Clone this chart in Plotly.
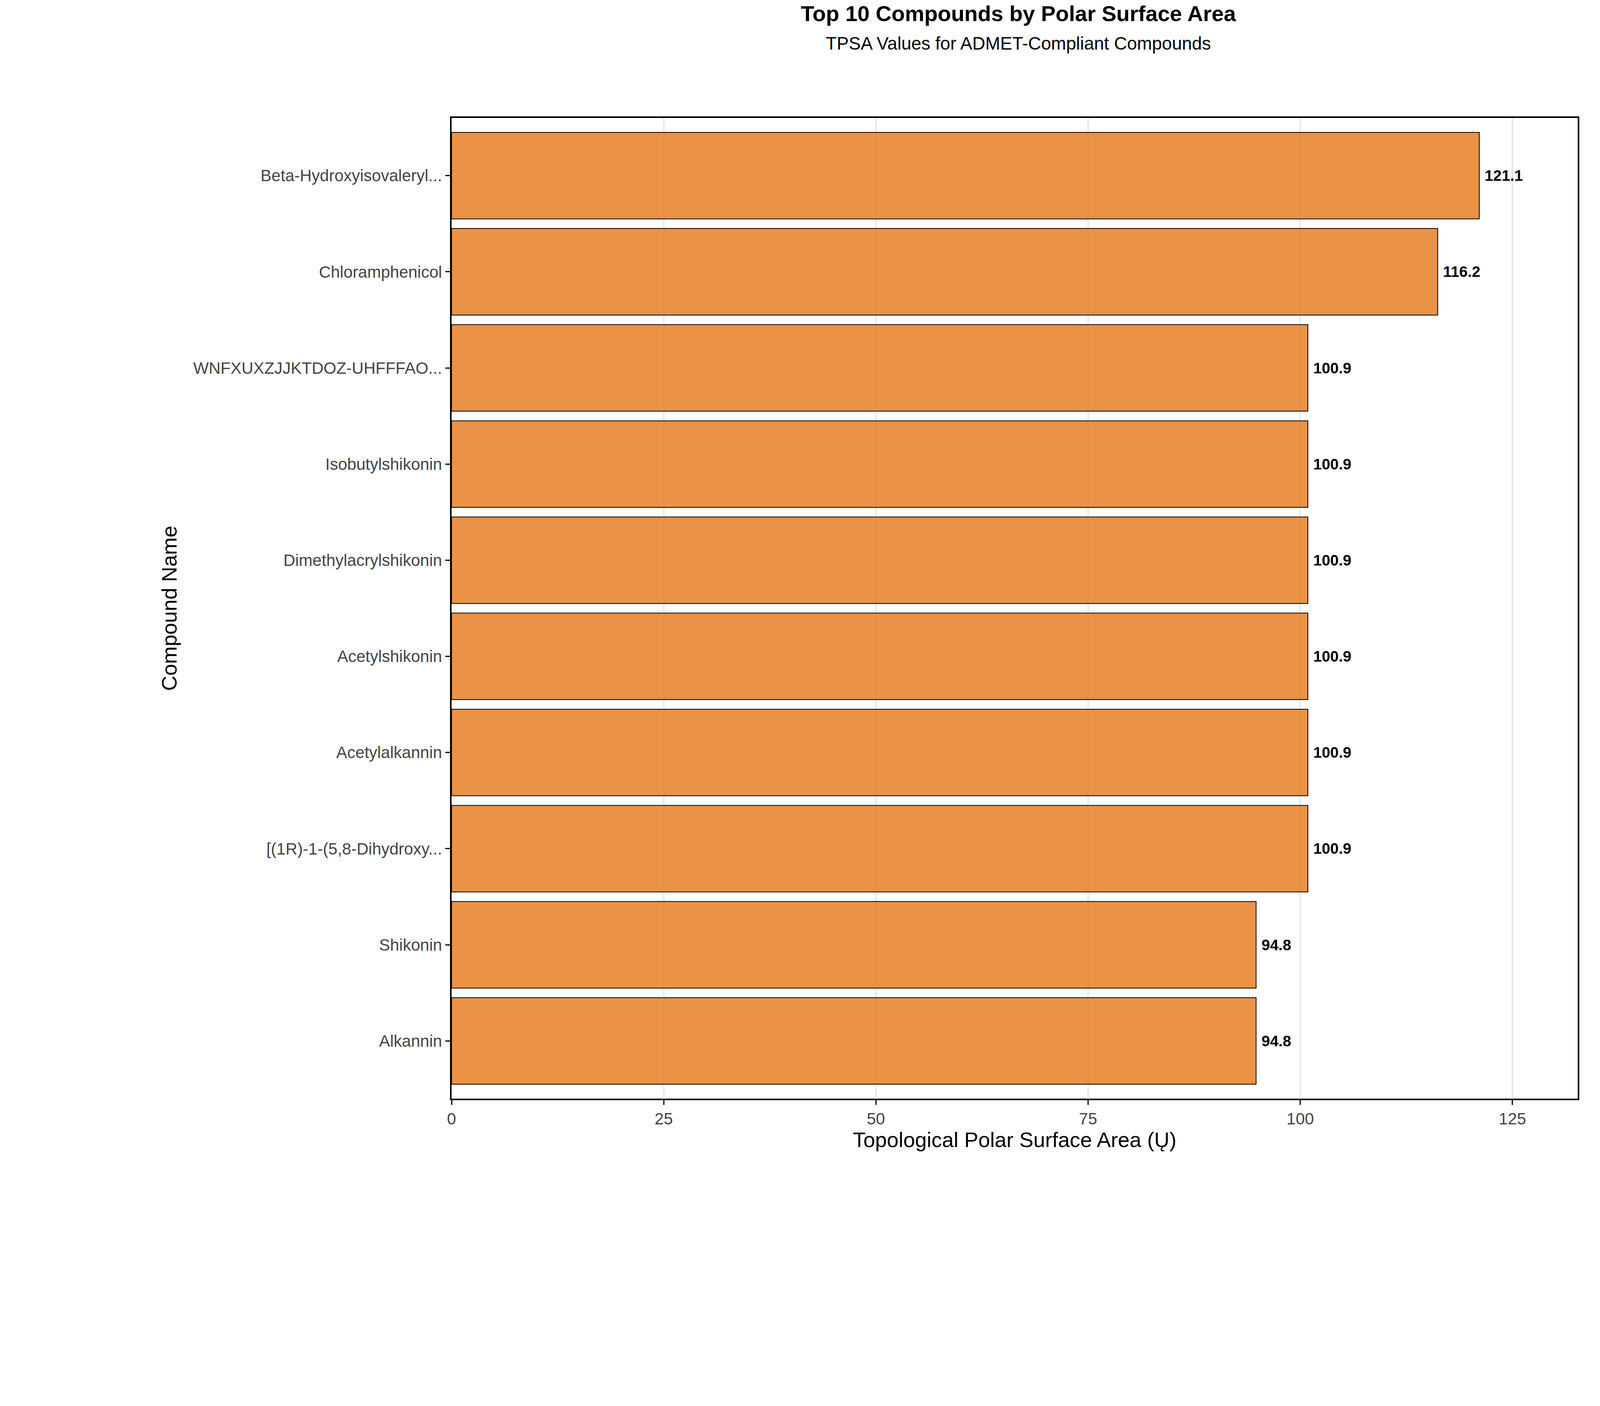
import plotly.graph_objects as go

# data (top to bottom in the chart)
compounds = [
    "Beta-Hydroxyisovaleryl...",
    "Chloramphenicol",
    "WNFXUXZJJKTDOZ-UHFFFAO...",
    "Isobutylshikonin",
    "Dimethylacrylshikonin",
    "Acetylshikonin",
    "Acetylalkannin",
    "[(1R)-1-(5,8-Dihydroxy...",
    "Shikonin",
    "Alkannin",
]
tpsa = [121.1, 116.2, 100.9, 100.9, 100.9, 100.9, 100.9, 100.9, 94.8, 94.8]
x_ticks = [0, 25, 50, 75, 100, 125]

FONT = "Liberation Sans, Arial, sans-serif"
S = 0.85  # page is shown at a smaller css size than 4800 px


def px(v):
    return round(v * S)


fig = go.Figure()
fig.add_trace(go.Bar(
    y=compounds,
    x=tpsa,
    orientation="h",
    marker=dict(color="rgba(232,134,50,0.9)", line=dict(color="black", width=2)),
    text=[f" {v:.1f}" for v in tpsa],
    textposition="outside",
    textfont=dict(family=FONT, size=px(46), color="black", weight="bold"),
    cliponaxis=False,
))

fig.update_layout(
    width=px(4800), height=px(3600),
    plot_bgcolor="white", paper_bgcolor="white",
    margin=dict(l=px(1350), r=px(58), t=px(346), b=px(300)),
    bargap=0.1,
    showlegend=False,
    title=dict(
        text="<b>Top 10 Compounds by Polar Surface Area</b><br>"
             f"<span style='font-size:{px(54)}px'>TPSA Values for ADMET-Compliant Compounds</span>",
        x=0.637, xanchor="center", y=0.985, yanchor="top",
        font=dict(family=FONT, size=px(66), color="black"),
    ),
    font=dict(family=FONT),
)

fig.update_xaxes(
    range=[0, 132.7], tickvals=x_ticks,
    showgrid=True, gridcolor="#e3e3e3", gridwidth=3,
    showline=True, linecolor="black", linewidth=4, mirror=True,
    ticks="outside", ticklen=px(14), tickwidth=3, tickcolor="black",
    tickfont=dict(family=FONT, size=px(50), color="#444444"),
    title=dict(text="Topological Polar Surface Area (Ų)",
               font=dict(family=FONT, size=px(64), color="black"), standoff=px(12)),
    zeroline=False,
)
fig.update_yaxes(
    categoryorder="array", categoryarray=compounds[::-1],
    showgrid=False,
    showline=True, linecolor="black", linewidth=4, mirror=True,
    ticks="outside", ticklen=px(14), tickwidth=3, tickcolor="black",
    tickfont=dict(family=FONT, size=px(50), color="#444444"),
    title=dict(text="Compound Name", font=dict(family=FONT, size=px(64), color="black"), standoff=px(30)),
    range=[-0.6, 9.6],
)

fig.write_html("out.html")
